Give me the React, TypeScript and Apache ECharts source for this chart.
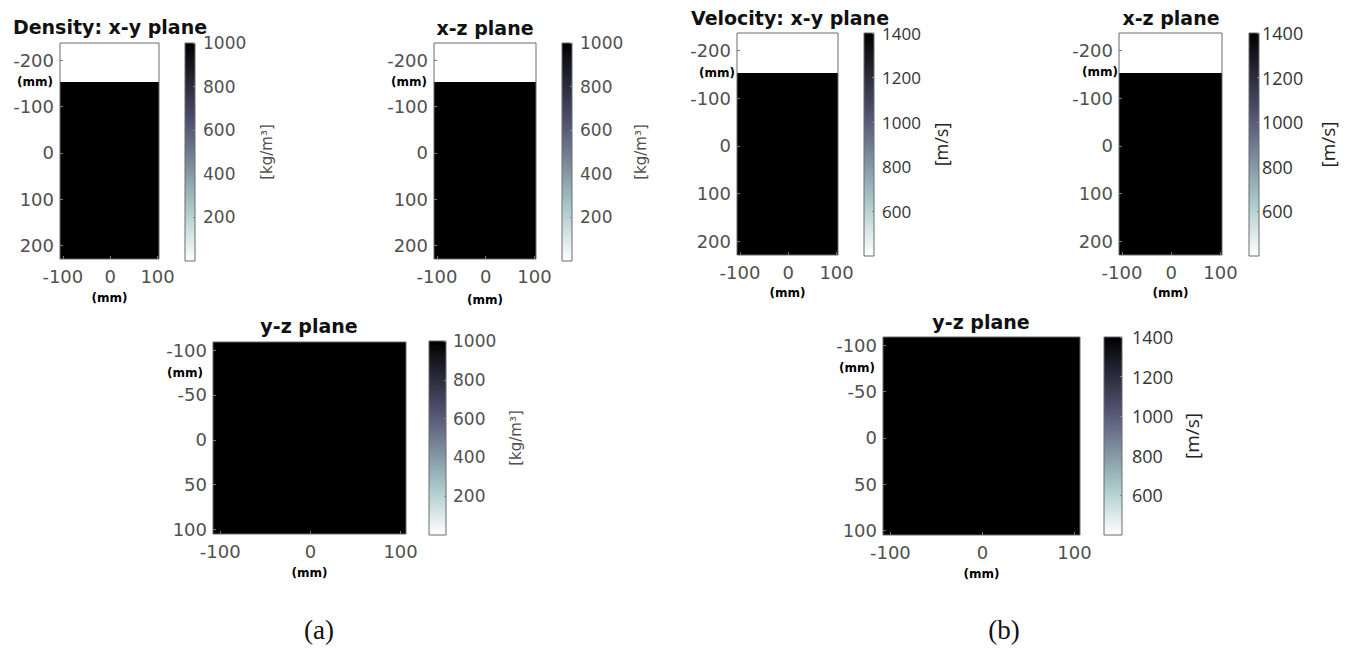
import React, { useEffect, useRef } from "react";
import * as echarts from "echarts";

// Tick labels
const horizontalTicks = [-100, 0, 100];
const depthTicksTall = [-200, -100, 0, 100, 200];
const depthTicksSquare = [-100, -50, 0, 50, 100];
const densityTicks = [200, 400, 600, 800, 1000];
const velocityTicks = [600, 800, 1000, 1200, 1400];

// Colour scale limits
const densityRange = [0, 1000];
const velocityRange = [400, 1400];

// Medium properties
const densityAir = 1.2;
const densityWater = 1000;
const velocityAir = 343;
const velocityWater = 1480;

// Domain extents (mm)
const tallPlaneHorizontal = [-106, 103];
const tallPlaneDepth = [-237, 229];
const squarePlaneHorizontal = [-108, 106];
const squarePlaneDepth = [-109, 105];
const waterSurface = -153;

type Cell = [number, number, number, number, number];

function layered(h: number[], d: number[], surface: number, air: number, water: number): Cell[] {
  return [
    [h[0], h[1], d[0], surface, air],
    [h[0], h[1], surface, d[1], water],
  ];
}

function uniform(h: number[], d: number[], v: number): Cell[] {
  return [[h[0], h[1], d[0], d[1], v]];
}

const clamp01 = (t: number) => Math.max(0, Math.min(1, t));

// Reversed "bone" colormap: low values white, high values black.
function boneReversed(v: number, lo: number, hi: number): string {
  const t = 1 - clamp01((v - lo) / (hi - lo));
  const hr = clamp01(t / 0.375);
  const hg = clamp01((t - 0.375) / 0.375);
  const hb = clamp01((t - 0.75) / 0.25);
  const r = Math.round(((7 * t + hb) / 8) * 255);
  const g = Math.round(((7 * t + hg) / 8) * 255);
  const b = Math.round(((7 * t + hr) / 8) * 255);
  return `rgb(${r},${g},${b})`;
}

function gradientFor(lo: number, hi: number) {
  const stops = [];
  const n = 24;
  for (let i = 0; i <= n; i++) {
    const o = i / n;
    stops.push({ offset: o, color: boneReversed(hi - o * (hi - lo), lo, hi) });
  }
  return { type: "linear", x: 0, y: 0, x2: 0, y2: 1, colorStops: stops };
}

const SANS = "DejaVu Sans";
const OPEN = "Open Sans";
const GREY = "#505050";
const plain = (v: number) => String(v);

interface Panel {
  title: string;
  titleAt: [number, number];
  mmAt: [number, number];
  box: [number, number, number, number];
  h: number[];
  d: number[];
  depthTicks: number[];
  cells: Cell[];
  range: number[];
  bar: [number, number, number, number];
  barTicks: number[];
  barFont: string;
  barColor: string;
  barFontSize: number;
  barMargin: number;
  unit: string;
  unitFont: string;
  unitSize: number;
  unitColor: string;
  unitGap: number;
  xNameGap: number;
}

const panels: Panel[] = [
  {
    title: "Density: x-y plane", titleAt: [110, 27], mmAt: [35, 82],
    box: [60, 43, 99, 216], h: tallPlaneHorizontal, d: tallPlaneDepth, depthTicks: depthTicksTall,
    cells: layered(tallPlaneHorizontal, tallPlaneDepth, waterSurface, densityAir, densityWater),
    range: densityRange, bar: [185, 43, 10, 218], barTicks: densityTicks,
    barFont: SANS, barColor: GREY, barFontSize: 17, barMargin: 8,
    unit: "[kg/m³]", unitFont: SANS, unitSize: 15, unitColor: GREY, unitGap: 64, xNameGap: 33,
  },
  {
    title: "x-z plane", titleAt: [485, 28], mmAt: [409, 82],
    box: [434, 43, 102, 216], h: tallPlaneHorizontal, d: tallPlaneDepth, depthTicks: depthTicksTall,
    cells: layered(tallPlaneHorizontal, tallPlaneDepth, waterSurface, densityAir, densityWater),
    range: densityRange, bar: [562, 43, 10, 218], barTicks: densityTicks,
    barFont: SANS, barColor: GREY, barFontSize: 17, barMargin: 8,
    unit: "[kg/m³]", unitFont: SANS, unitSize: 15, unitColor: GREY, unitGap: 61, xNameGap: 35,
  },
  {
    title: "Velocity: x-y plane", titleAt: [790, 18], mmAt: [717, 73],
    box: [737, 33, 101, 222], h: tallPlaneHorizontal, d: tallPlaneDepth, depthTicks: depthTicksTall,
    cells: layered(tallPlaneHorizontal, tallPlaneDepth, waterSurface, velocityAir, velocityWater),
    range: velocityRange, bar: [864, 33, 10, 223], barTicks: velocityTicks,
    barFont: OPEN, barColor: "#333", barFontSize: 17, barMargin: 8,
    unit: "[m/s]", unitFont: OPEN, unitSize: 18, unitColor: "#222", unitGap: 58, xNameGap: 32,
  },
  {
    title: "x-z plane", titleAt: [1171, 18], mmAt: [1100, 72],
    box: [1119, 33, 103, 222], h: tallPlaneHorizontal, d: tallPlaneDepth, depthTicks: depthTicksTall,
    cells: layered(tallPlaneHorizontal, tallPlaneDepth, waterSurface, velocityAir, velocityWater),
    range: velocityRange, bar: [1249, 33, 10, 223], barTicks: velocityTicks,
    barFont: OPEN, barColor: "#333", barFontSize: 18, barMargin: 3,
    unit: "[m/s]", unitFont: OPEN, unitSize: 19, unitColor: "#222", unitGap: 59, xNameGap: 32,
  },
  {
    title: "y-z plane", titleAt: [309, 326], mmAt: [185, 373],
    box: [213, 342, 193, 192], h: squarePlaneHorizontal, d: squarePlaneDepth, depthTicks: depthTicksSquare,
    cells: uniform(squarePlaneHorizontal, squarePlaneDepth, densityWater),
    range: densityRange, bar: [429, 341, 17, 194], barTicks: densityTicks,
    barFont: SANS, barColor: GREY, barFontSize: 17, barMargin: 7,
    unit: "[kg/m³]", unitFont: SANS, unitSize: 15, unitColor: GREY, unitGap: 62, xNameGap: 33,
  },
  {
    title: "y-z plane", titleAt: [981, 322], mmAt: [857, 368],
    box: [883, 337, 197, 198], h: squarePlaneHorizontal, d: squarePlaneDepth, depthTicks: depthTicksSquare,
    cells: uniform(squarePlaneHorizontal, squarePlaneDepth, velocityWater),
    range: velocityRange, bar: [1104, 337, 18, 198], barTicks: velocityTicks,
    barFont: OPEN, barColor: "#333", barFontSize: 18, barMargin: 10,
    unit: "[m/s]", unitFont: OPEN, unitSize: 19, unitColor: "#222", unitGap: 60, xNameGap: 33,
  },
];

function buildOption() {
  const grid: any[] = [];
  const xAxis: any[] = [];
  const yAxis: any[] = [];
  const series: any[] = [];
  const graphic: any[] = [];

  panels.forEach((p) => {
    // image plane
    const gi = grid.length;
    grid.push({
      left: p.box[0], top: p.box[1], width: p.box[2], height: p.box[3],
      show: true, borderColor: "#6a6a6a", borderWidth: 1, backgroundColor: "transparent", z: 5,
    });
    xAxis.push({
      type: "value", gridIndex: gi, min: p.h[0], max: p.h[1], position: "bottom",
      name: "(mm)", nameLocation: "middle", nameGap: p.xNameGap,
      nameTextStyle: { fontFamily: SANS, fontWeight: "bold", fontSize: 12, color: "#000" },
      axisLine: { show: false, onZero: false }, splitLine: { show: false },
      axisTick: { show: true, inside: true, length: 3, customValues: horizontalTicks, lineStyle: { color: "#777" } },
      axisLabel: { customValues: horizontalTicks, formatter: plain, fontFamily: SANS, fontSize: 18, color: GREY, margin: 8 },
      z: 6,
    });
    yAxis.push({
      type: "value", gridIndex: gi, min: p.d[0], max: p.d[1], inverse: true, position: "left",
      axisLine: { show: false, onZero: false }, splitLine: { show: false },
      axisTick: { show: true, inside: true, length: 3, customValues: p.depthTicks, lineStyle: { color: "#777" } },
      axisLabel: { customValues: p.depthTicks, formatter: plain, fontFamily: SANS, fontSize: 18, color: GREY, margin: 6 },
      z: 6,
    });
    const lo = p.range[0];
    const hi = p.range[1];
    series.push({
      type: "custom", xAxisIndex: gi, yAxisIndex: gi,
      data: p.cells,
      encode: { x: [0, 1], y: [2, 3] },
      renderItem: (_params: any, api: any) => {
        const a = api.coord([api.value(0), api.value(2)]);
        const b = api.coord([api.value(1), api.value(3)]);
        return {
          type: "rect",
          shape: {
            x: Math.min(a[0], b[0]), y: Math.min(a[1], b[1]),
            width: Math.abs(b[0] - a[0]), height: Math.abs(b[1] - a[1]),
          },
          style: { fill: boneReversed(api.value(4), lo, hi) },
        };
      },
    });

    // colour bar
    const ci = grid.length;
    grid.push({
      left: p.bar[0], top: p.bar[1], width: p.bar[2], height: p.bar[3],
      show: true, borderColor: "#6a6a6a", borderWidth: 1, backgroundColor: "transparent", z: 5,
    });
    xAxis.push({ type: "value", gridIndex: ci, min: 0, max: 1, show: false });
    yAxis.push({
      type: "value", gridIndex: ci, min: lo, max: hi, position: "right",
      name: p.unit, nameLocation: "middle", nameRotate: 90, nameGap: p.unitGap,
      nameTextStyle: { fontFamily: p.unitFont, fontSize: p.unitSize, color: p.unitColor },
      axisLine: { show: false, onZero: false }, splitLine: { show: false },
      axisTick: { show: true, inside: true, length: 2, customValues: p.barTicks, lineStyle: { color: "#888" } },
      axisLabel: { customValues: p.barTicks, formatter: plain, fontFamily: p.barFont, fontSize: p.barFontSize, color: p.barColor, margin: p.barMargin },
      z: 6,
    });
    const grad = gradientFor(lo, hi);
    series.push({
      type: "custom", xAxisIndex: ci, yAxisIndex: ci,
      data: [[0, 1, lo, hi]],
      encode: { x: [0, 1], y: [2, 3] },
      renderItem: (_params: any, api: any) => {
        const a = api.coord([api.value(0), api.value(3)]);
        const b = api.coord([api.value(1), api.value(2)]);
        return {
          type: "rect",
          shape: { x: a[0], y: a[1], width: b[0] - a[0], height: b[1] - a[1] },
          style: { fill: grad },
        };
      },
    });

    graphic.push({
      type: "text", x: p.titleAt[0], y: p.titleAt[1],
      style: {
        text: p.title, fontFamily: SANS, fontWeight: "bold", fontSize: 19, fill: "#111",
        align: "center", verticalAlign: "middle",
      },
    });
    graphic.push({
      type: "text", x: p.mmAt[0], y: p.mmAt[1],
      style: {
        text: "(mm)", fontFamily: SANS, fontWeight: "bold", fontSize: 12, fill: "#000",
        align: "center", verticalAlign: "middle",
      },
    });
  });

  graphic.push({
    type: "text", x: 319, y: 630,
    style: { text: "(a)", fontFamily: "Liberation Serif", fontSize: 27, fill: "#111", align: "center", verticalAlign: "middle" },
  });
  graphic.push({
    type: "text", x: 1004, y: 630,
    style: { text: "(b)", fontFamily: "Liberation Serif", fontSize: 27, fill: "#111", align: "center", verticalAlign: "middle" },
  });

  return { animation: false, backgroundColor: "#fff", grid, xAxis, yAxis, series, graphic };
}

export default function App() {
  const ref = useRef<HTMLDivElement>(null);
  useEffect(() => {
    if (!ref.current) return;
    const chart = echarts.init(ref.current, undefined, { renderer: "svg" });
    chart.setOption(buildOption() as any);
    return () => chart.dispose();
  }, []);
  return (
    <div
      ref={ref}
      style={{ position: "fixed", left: 0, top: 0, width: 1346, height: 649, background: "#fff" }}
    />
  );
}
